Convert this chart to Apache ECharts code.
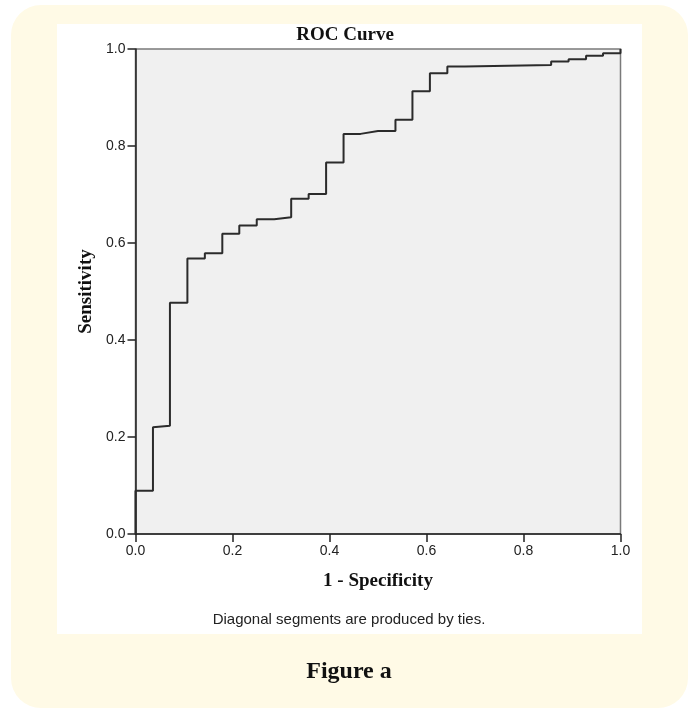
<!DOCTYPE html>
<html>
<head>
<meta charset="utf-8">
<script src="https://cdn.jsdelivr.net/npm/echarts@6/dist/echarts.min.js"></script>
<style>
  html, body { margin: 0; padding: 0; background: #ffffff; }
  #roc { width: 690px; height: 710px; }
</style>
</head>
<body>
<div id="roc"></div>
<script>
// ROC points (1 - specificity, sensitivity)
const fpr = [0, 0, 0.036, 0.036, 0.071, 0.071, 0.107, 0.107, 0.143, 0.143, 0.179, 0.179,
  0.214, 0.214, 0.25, 0.25, 0.286, 0.286, 0.321, 0.321, 0.357, 0.357, 0.393, 0.393,
  0.429, 0.429, 0.464, 0.5, 0.536, 0.536, 0.571, 0.571, 0.607, 0.607, 0.643, 0.643,
  0.679, 0.679, 0.857, 0.857, 0.893, 0.893, 0.929, 0.929, 0.964, 0.964, 1, 1];
const tpr = [0, 0.089, 0.089, 0.22, 0.223, 0.477, 0.477, 0.568, 0.568, 0.579, 0.579, 0.619,
  0.619, 0.636, 0.636, 0.649, 0.649, 0.653, 0.653, 0.691, 0.691, 0.701, 0.701, 0.766,
  0.766, 0.825, 0.825, 0.831, 0.831, 0.854, 0.854, 0.913, 0.913, 0.95, 0.95, 0.964,
  0.964, 0.967, 0.967, 0.974, 0.974, 0.979, 0.979, 0.986, 0.986, 0.991, 0.991, 1];
const tickValues = [0, 0.2, 0.4, 0.6, 0.8, 1.0];

const serif = '"Liberation Serif", "Times New Roman", serif';
const sans = '"Liberation Sans", Arial, sans-serif';

const getOptions = () => {
  return {
    animation: false,
    title: {
      text: 'ROC Curve',
      left: 'center',
      top: 21,
      textStyle: { fontFamily: serif, fontSize: 19, fontWeight: 'bold', color: '#111' }
    },
    graphic: [
      {
        type: 'rect', z: -10, silent: true,
        shape: { x: 11, y: 5, width: 677, height: 703, r: 30 },
        style: { fill: '#fffae6' }
      },
      {
        type: 'rect', z: -9, silent: true,
        shape: { x: 57, y: 24, width: 585, height: 610 },
        style: { fill: '#ffffff' }
      },
      {
        type: 'text', silent: true,
        x: 349, y: 620,
        style: {
          text: 'Diagonal segments are produced by ties.',
          font: '15px ' + sans, fill: '#222',
          align: 'center', verticalAlign: 'middle'
        }
      },
      {
        type: 'text', silent: true,
        x: 349, y: 672,
        style: {
          text: 'Figure a',
          font: 'bold 24px ' + serif, fill: '#111',
          align: 'center', verticalAlign: 'middle'
        }
      }
    ],
    grid: {
      left: 135.5, top: 49, width: 485, height: 485,
      show: true,
      backgroundColor: '#f0f0f0',
      borderColor: '#7a7a7a',
      borderWidth: 1.5
    },
    xAxis: {
      type: 'value', min: 0, max: 1, interval: 0.2,
      name: '1 - Specificity',
      nameLocation: 'middle',
      nameGap: 38,
      nameTextStyle: { fontFamily: serif, fontSize: 19, fontWeight: 'bold', color: '#111' },
      axisLine: { lineStyle: { color: '#222', width: 1.5 } },
      axisTick: { length: 8, lineStyle: { color: '#222', width: 1.5 } },
      axisLabel: {
        margin: 10, fontFamily: sans, fontSize: 14, color: '#222',
        formatter: v => tickValues.includes(v) ? v.toFixed(1) : ''
      },
      splitLine: { show: false }
    },
    yAxis: {
      type: 'value', min: 0, max: 1, interval: 0.2,
      name: 'Sensitivity',
      nameLocation: 'middle',
      nameRotate: 90,
      nameGap: 38,
      nameTextStyle: { fontFamily: serif, fontSize: 19, fontWeight: 'bold', color: '#111' },
      axisLine: { lineStyle: { color: '#222', width: 1.5 } },
      axisTick: { length: 8, lineStyle: { color: '#222', width: 1.5 } },
      axisLabel: {
        margin: 10, fontFamily: sans, fontSize: 14, color: '#222',
        formatter: v => tickValues.includes(v) ? v.toFixed(1) : ''
      },
      splitLine: { show: false }
    },
    series: [
      {
        name: 'ROC',
        type: 'line',
        symbol: 'none',
        data: fpr.map((x, i) => [x, tpr[i]]),
        lineStyle: { color: '#2b2b2b', width: 2 }
      }
    ]
  };
};

window.addEventListener('load', () => {
  const chart = echarts.init(document.getElementById('roc'));
  chart.setOption(getOptions());
});
</script>
</body>
</html>
